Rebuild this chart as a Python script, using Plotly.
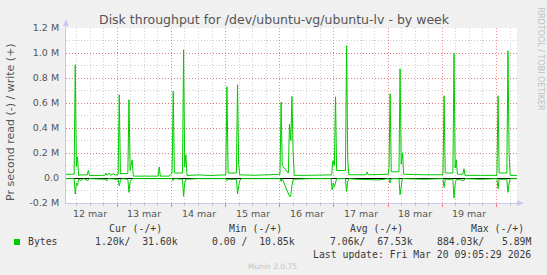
import pandas as pd
import plotly.graph_objects as go

# ---------------- data (hours after 12 mar 2026 00:00, values in k bytes/s) ----------------
write_hours = [1.3, 4.9, 5.4, 5.9, 6.4, 6.9, 8.0, 10.7, 11.2, 11.7, 14.0, 18.5, 19.0, 19.5, 20.5, 21.0,
               22.5, 23.0, 24.4, 24.9, 25.4, 28.7, 29.2, 29.7, 30.6, 31.1, 36.0, 42.1, 42.6, 43.1, 47.0,
               48.3, 48.8, 49.3, 52.9, 53.4, 53.9, 54.4, 54.9, 60.0, 65.0, 70.0, 72.1, 72.6, 73.1, 76.8,
               77.3, 77.8, 78.3, 85.0, 90.0, 96.1, 96.6, 97.1, 99.8, 100.3, 100.9, 101.4, 101.9, 102.4,
               110.0, 115.0, 119.0, 119.5, 120.2, 120.7, 121.2, 125.1, 125.6, 126.1, 126.6, 134.2, 134.7,
               135.2, 144.0, 144.4, 144.9, 145.4, 148.8, 149.3, 149.8, 150.4, 150.9, 160.0, 168.3, 168.8,
               169.3, 172.7, 173.2, 173.7, 174.2, 174.7, 177.1, 177.6, 178.1, 185.0, 192.2, 192.7, 193.2,
               196.6, 197.1, 197.6, 198.1, 201.1]
write_k = [30, 30, 906, 93, 170, 20, 25, 25, 61, 20, 20, 22, 40, 22, 40, 22,
           35, 22, 30, 666, 35, 35, 626, 60, 146, 15, 15, 15, 88, 15, 15,
           40, 693, 40, 40, 1026, 90, 186, 20, 25, 20, 25, 25, 730, 40, 40,
           746, 106, 25, 22, 25, 30, 608, 100, 40, 432, 300, 653, 213, 21,
           22, 21, 25, 138, 100, 650, 60, 60, 1058, 152, 26, 26, 48,
           26, 30, 82, 674, 50, 50, 874, 110, 202, 30, 26, 26, 658,
           40, 40, 1000, 80, 146, 30, 30, 74, 21, 21, 21, 658, 40,
           40, 1018, 186, 21, 21]

read_hours = [1.3, 4.9, 5.4, 5.9, 6.4, 6.9, 8.0, 9.0, 11.0, 11.5, 18.8, 19.3, 19.8, 24.4, 24.9, 25.4,
              26.0, 28.7, 29.2, 29.7, 30.2, 31.0, 40.0, 48.3, 48.8, 49.3, 52.9, 53.4, 53.9, 54.4, 60.0,
              66.0, 72.1, 72.6, 73.1, 76.8, 77.3, 77.8, 78.3, 79.0, 88.0, 96.1, 96.6, 97.1, 100.3, 100.8,
              101.4, 102.0, 110.0, 118.7, 119.2, 119.7, 120.2, 120.7, 121.2, 125.1, 125.6, 126.1, 126.6,
              130.0, 140.0, 144.4, 144.9, 145.4, 148.8, 149.3, 149.8, 150.3, 160.0, 168.3, 168.8, 169.3,
              172.7, 173.2, 173.7, 174.2, 177.6, 178.1, 185.0, 192.2, 192.7, 193.2, 196.6, 197.1, 197.6,
              198.1, 201.1]
read_k = [-5, -5, -128, -40, -60, -10, -20, -5, -20, -5, -10, -25, -5, -10, -62, -20,
          -5, -10, -115, -30, -15, -5, -5, -5, -22, -5, -10, -147, -40, -10, -5,
          -8, -5, -22, -10, -10, -128, -60, -20, -5, -5, -5, -27, -5, -147, -147,
          -60, -10, -5, -5, -94, -40, -70, -30, -5, -5, -107, -30, -5,
          -10, -15, -5, -40, -5, -5, -134, -40, -5, -10, -5, -75, -10,
          -10, -160, -50, -10, -20, -5, -10, -5, -86, -10, -10, -115, -40,
          -5, -5]

day_labels = ["12 mar", "13 mar", "14 mar", "15 mar", "16 mar", "17 mar", "18 mar", "19 mar"]
y_tick_vals = [-200000, 0, 200000, 400000, 600000, 800000, 1000000, 1200000]
y_tick_text = ["-0.2 M", "0.0", "0.2 M", "0.4 M", "0.6 M", "0.8 M", "1.0 M", "1.2 M"]

legend_headers = ["Cur (-/+)", "Min (-/+)", "Avg (-/+)", "Max (-/+)"]
legend_values = ["1.20k/\u00a0\u00a031.60k", "0.00 /\u00a0\u00a010.85k",
                 "7.06k/\u00a0\u00a067.53k", "884.03k/\u00a0\u00a0\u00a05.89M"]
series_name = "Bytes"
last_update = "Last update: Fri Mar 20 09:05:29 2026"

base = pd.Timestamp("2026-03-12 00:00:00")
x_start = base + pd.Timedelta(hours=1.3)
x_end = base + pd.Timedelta(hours=201.1)

wx = [base + pd.Timedelta(hours=h) for h in write_hours]
wy = [v * 1000 for v in write_k]
rx = [base + pd.Timedelta(hours=h) for h in read_hours]
ry = [v * 1000 for v in read_k]

# ---------------- layout helpers (pixel -> paper) ----------------
W, H = 547, 275
L, R, T, B = 66, 30, 28, 72
PW, PH = W - L - R, H - T - B


def px(xp):
    return (xp - L) / PW


def py(yp):
    return (H - B - yp) / PH


GREEN = "#00cc00"
TXT = "#555555"
LEG = "#3a3a3a"
AXIS = "#c8c8f4"

fig = go.Figure()
fig.add_trace(go.Scatter(x=rx, y=ry, mode="lines", line=dict(color=GREEN, width=1),
                         hoverinfo="skip", showlegend=False))
fig.add_trace(go.Scatter(x=wx, y=wy, mode="lines", line=dict(color=GREEN, width=1),
                         hoverinfo="skip", showlegend=False))

fig.update_layout(
    width=W, height=H,
    margin=dict(l=L, r=R, t=T, b=B, pad=0),
    paper_bgcolor="#f0f0f0", plot_bgcolor="#ffffff",
    font=dict(family="DejaVu Sans", size=9.5, color=TXT),
    showlegend=False,
    xaxis=dict(
        type="date", range=[x_start, x_end],
        tick0="2026-03-12", dtick=86400000,
        showticklabels=False,
        showgrid=True, gridcolor="rgba(255,0,0,0.45)", griddash="1px,2px", gridwidth=1,
        ticks="outside", ticklen=3, tickcolor="rgba(255,0,0,0.5)",
        minor=dict(dtick=6 * 3600000, tick0="2026-03-12", showgrid=True,
                   gridcolor="#cfcfcf", griddash="1px,2px", gridwidth=1,
                   ticks="outside", ticklen=2, tickcolor="#c0c0c0"),
        showline=True, linecolor=AXIS, linewidth=1,
        zeroline=False, fixedrange=True,
    ),
    yaxis=dict(
        range=[-200000, 1200000],
        tickmode="array", tickvals=y_tick_vals, ticktext=y_tick_text,
        showgrid=True, gridcolor="rgba(255,0,0,0.4)", griddash="1px,2px", gridwidth=1,
        minor=dict(dtick=100000, tick0=0, showgrid=True,
                   gridcolor="#cfcfcf", griddash="1px,2px", gridwidth=1),
        ticks="", ticklabelstandoff=4,
        showline=True, linecolor=AXIS, linewidth=1,
        zeroline=True, zerolinecolor="#000000", zerolinewidth=1,
        tickfont=dict(size=9.5, color=TXT), fixedrange=True,
    ),
)

# day labels centred at noon of each day
for i, lab in enumerate(day_labels):
    fig.add_annotation(x=base + pd.Timedelta(hours=12 + 24 * i), xref="x",
                       y=py(213.5), yref="paper", text=lab, showarrow=False,
                       xanchor="center", yanchor="middle",
                       font=dict(family="DejaVu Sans", size=9.5, color=TXT))

# axis arrows
fig.add_shape(type="line", xref="paper", yref="paper", x0=0, x1=0, y0=1, y1=py(22),
              line=dict(color=AXIS, width=1))
fig.add_shape(type="path", xref="paper", yref="paper",
              path=f"M {px(63)} {py(26)} L {px(66)} {py(19)} L {px(69)} {py(26)} Z",
              fillcolor=AXIS, line=dict(color=AXIS, width=0))
fig.add_shape(type="line", xref="paper", yref="paper", x0=1, x1=px(520), y0=0, y1=0,
              line=dict(color=AXIS, width=1))
fig.add_shape(type="path", xref="paper", yref="paper",
              path=f"M {px(517)} {py(200.3)} L {px(524)} {py(203.3)} L {px(517)} {py(206.3)} Z",
              fillcolor=AXIS, line=dict(color=AXIS, width=0))

# title
fig.add_annotation(x=px(274), y=py(20), xref="paper", yref="paper",
                   text="Disk throughput for /dev/ubuntu-vg/ubuntu-lv - by week",
                   showarrow=False, xanchor="center", yanchor="middle",
                   font=dict(family="DejaVu Sans", size=12.5, color=TXT))
# y title
fig.add_annotation(x=px(10), y=py(122), xref="paper", yref="paper",
                   text="Pr second read (-) / write (+)", textangle=-90,
                   showarrow=False, xanchor="center", yanchor="middle",
                   font=dict(family="DejaVu Sans", size=11, color=TXT))
# rrdtool credit
fig.add_annotation(x=px(540), y=py(5), xref="paper", yref="paper",
                   text="RRDTOOL / TOBI OETIKER", textangle=90,
                   showarrow=False, xanchor="center", yanchor="top",
                   font=dict(family="DejaVu Sans", size=8, color="#c0c0c0"))

# legend area
MONO = "DejaVu Sans Mono"
header_right = [164, 284, 405, 526]
value_right = [180, 297, 415, 533]
for txt, xr in zip(legend_headers, header_right):
    fig.add_annotation(x=px(xr), y=py(228.6), xref="paper", yref="paper", text=txt,
                       showarrow=False, xanchor="right", yanchor="middle",
                       font=dict(family=MONO, size=9.8, color=LEG))
for txt, xr in zip(legend_values, value_right):
    fig.add_annotation(x=px(xr), y=py(241.8), xref="paper", yref="paper", text=txt,
                       showarrow=False, xanchor="right", yanchor="middle",
                       font=dict(family=MONO, size=9.8, color=LEG))
fig.add_annotation(x=px(26), y=py(241.8), xref="paper", yref="paper", text=series_name,
                   showarrow=False, xanchor="left", yanchor="middle",
                   font=dict(family=MONO, size=9.8, color=LEG))
fig.add_shape(type="rect", xref="paper", yref="paper",
              x0=px(14), x1=px(20), y0=py(239), y1=py(245),
              fillcolor=GREEN, line=dict(width=0))
fig.add_annotation(x=px(533), y=py(254), xref="paper", yref="paper", text=last_update,
                   showarrow=False, xanchor="right", yanchor="middle",
                   font=dict(family=MONO, size=9.8, color=LEG))
fig.add_annotation(x=px(272.5), y=py(266.5), xref="paper", yref="paper", text="Munin 2.0.75",
                   showarrow=False, xanchor="center", yanchor="middle",
                   font=dict(family="DejaVu Sans", size=7.5, color="#c4c4c4"))

fig.write_html("out.html", config={"displayModeBar": False})
